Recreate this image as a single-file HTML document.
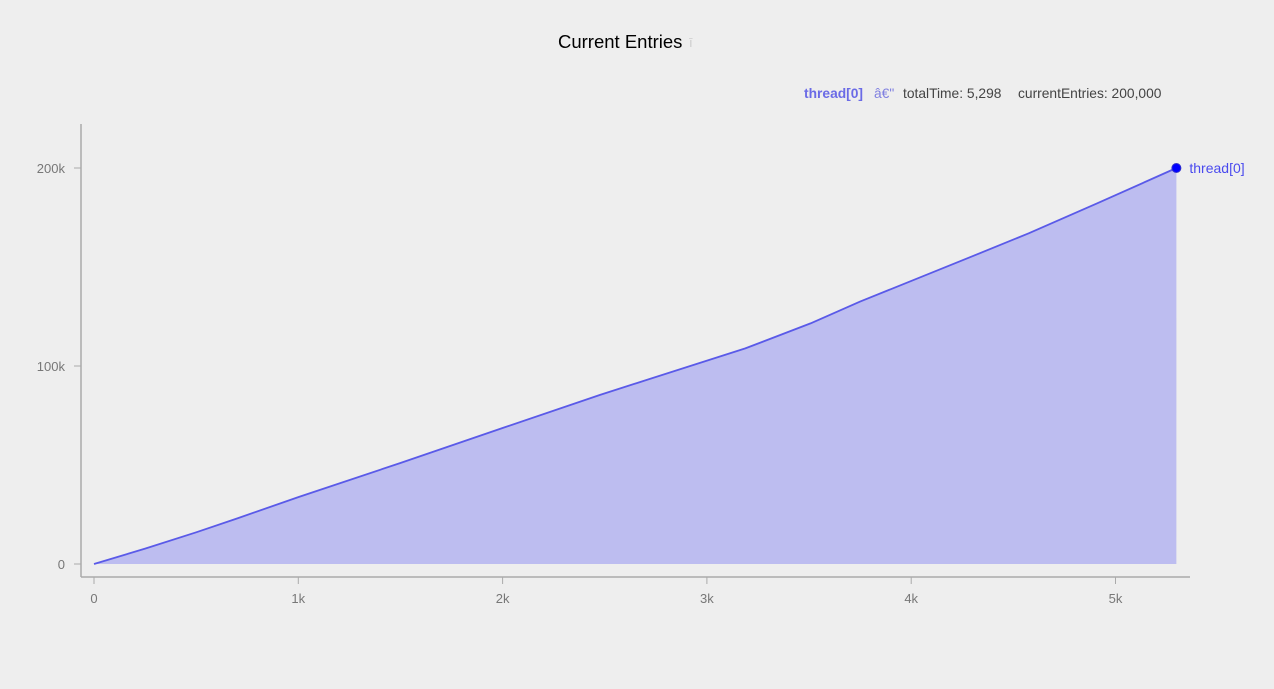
<!DOCTYPE html>
<html><head><meta charset="utf-8">
<style>
body{margin:0;background:#eeeeee;font-family:"Liberation Sans",sans-serif;}
svg{display:block}
</style></head>
<body>
<svg id="chart" width="1274" height="689">
<text x="558" y="48" font-size="18.5" fill="#000">Current Entries</text>
<text x="689" y="47" font-size="13" fill="#ccc">ī</text>
<g font-size="13.8">
<text x="804" y="98" fill="#6b6be6" font-weight="bold">thread[0]</text>
<text x="874" y="98" fill="#8080e0">â€"</text>
<text x="903" y="98" fill="#444">totalTime: 5,298</text>
<text x="1018" y="98" fill="#444">currentEntries: 200,000</text>
</g>
<g id="axes"></g>
<g id="plot"></g>
</svg>
<script>
const xs = [0, 250, 500, 700, 1000, 1500, 2000, 2477, 2664, 3188, 3507, 3750, 4294, 4575, 4912, 5298];
const ys = [0, 7800, 16000, 23000, 33800, 51000, 68700, 85400, 91600, 108900, 121500, 132500, 155200, 167000, 182200, 200000];
const xTicks = [0, 1000, 2000, 3000, 4000, 5000];
const xTickLabels = ["0", "1k", "2k", "3k", "4k", "5k"];
const yTicks = [0, 100000, 200000];
const yTickLabels = ["0", "100k", "200k"];

const sx = v => 94 + v * 0.2043;
const sy = v => 564 - v * 0.00198;
const NS = "http://www.w3.org/2000/svg";
const axes = document.getElementById('axes');
const plot = document.getElementById('plot');
function mk(tag, attrs, parent){const e=document.createElementNS(NS,tag);for(const k in attrs)e.setAttribute(k,attrs[k]);parent.appendChild(e);return e;}

const yAxis = mk('line',{x1:81,y1:124,x2:81,y2:577,stroke:'#aaa','stroke-width':1.5},axes);


const xAxis = mk('line',{x1:81,y1:577,x2:1190,y2:577,stroke:'#aaa','stroke-width':1.5},axes);



xTicks.forEach((t,i)=>{
  const x=sx(t);
  const tk = mk('line',{x1:x,y1:577,x2:x,y2:584,stroke:'#aaa'},axes);
  
  
  const lb = mk('text',{x:x,y:603,'text-anchor':'middle','font-size':13,fill:'#777'},axes);
  lb.textContent = xTickLabels[i];
  
  
});
yTicks.forEach((t,i)=>{
  const y=sy(t);
  const tk = mk('line',{x1:74,y1:y,x2:81,y2:y,stroke:'#aaa'},axes);
  
  
  const lb = mk('text',{x:65,y:y+5,'text-anchor':'end','font-size':13,fill:'#777'},axes);
  lb.textContent = yTickLabels[i];
  
  
});

const pts = xs.map((v,i)=>sx(v).toFixed(1)+','+sy(ys[i]).toFixed(1));
const n = xs.length-1;
const area = mk('path',{d:'M'+sx(xs[0])+','+sy(0)+' L'+pts.join(' L')+' L'+sx(xs[n])+','+sy(0)+' Z',fill:'#bdbdf0'},plot);


const line = mk('polyline',{points:pts.join(' '),fill:'none',stroke:'#5a5ae8','stroke-width':1.8,'stroke-linejoin':'round'},plot);


const dot = mk('circle',{cx:sx(xs[n]),cy:sy(ys[n]),r:4.5,fill:'#0000ff',stroke:'#3333cc'},plot);


const lab = mk('text',{x:sx(xs[n])+13,y:sy(ys[n])+5,'font-size':14,fill:'#4a4aee'},plot);
lab.textContent = 'thread[0]';


</script>
</body></html>
